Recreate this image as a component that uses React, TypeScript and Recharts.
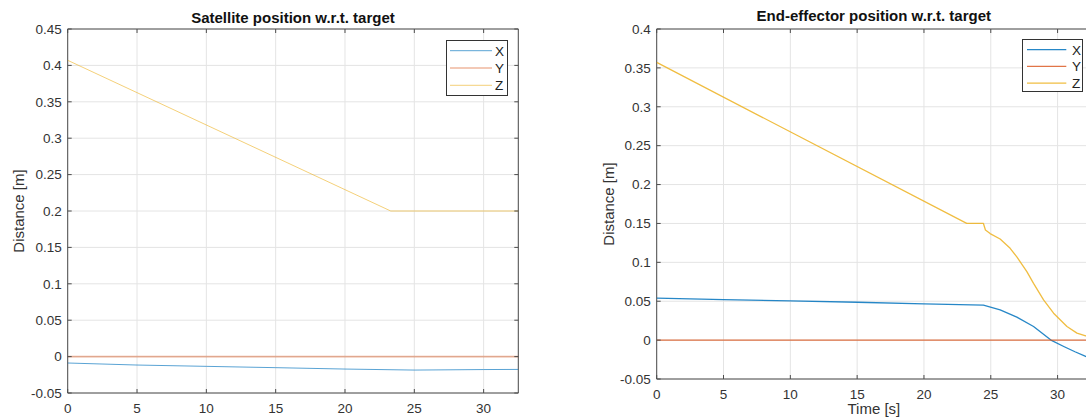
import React from "react";
import {
  LineChart,
  Line,
  XAxis,
  YAxis,
  CartesianGrid,
  ReferenceArea,
  Legend,
} from "recharts";

const FONT = '"Liberation Sans", Arial, Helvetica, sans-serif';
const TEXT = "#333333";
const FRAME = "#4d4d4d";
const GRID = "#e4e4e4";

// shared axes
const timeTicks = [0, 5, 10, 15, 20, 25, 30];
const satDistanceTicks = [-0.05, 0, 0.05, 0.1, 0.15, 0.2, 0.25, 0.3, 0.35, 0.4, 0.45];
const eeDistanceTicks = [-0.05, 0, 0.05, 0.1, 0.15, 0.2, 0.25, 0.3, 0.35, 0.4];

// Satellite position w.r.t. target
const satXTime = [0, 5, 10, 15, 20, 25, 30, 32.5];
const satXValue = [-0.0088, -0.0116, -0.0134, -0.0152, -0.0171, -0.0185, -0.0178, -0.0176];
const satYTime = [0, 32.5];
const satYValue = [0, 0];
const satZTime = [0, 23.3, 32.5];
const satZValue = [0.407, 0.2, 0.2];

// End-effector position w.r.t. target
const eeXTime = [0, 5, 10, 15, 20, 24.45, 25.7, 26.95, 28.2, 29.5, 30.5, 31.3, 32.1, 32.5];
const eeXValue = [0.054, 0.052, 0.0504, 0.0487, 0.0465, 0.0449, 0.0389, 0.0295, 0.0175, 0.0, -0.0085, -0.015, -0.021, -0.0235];
const eeYTime = [0, 32.5];
const eeYValue = [0, 0];
const eeZTime = [0, 23.2, 24.45, 24.6, 24.95, 25.7, 26.45, 26.95, 27.7, 28.2, 28.95, 29.7, 30.7, 31.45, 32.1, 32.5];
const eeZValue = [0.357, 0.15, 0.15, 0.1415, 0.137, 0.13, 0.118, 0.107, 0.088, 0.073, 0.0517, 0.0346, 0.0175, 0.009, 0.0056, 0.004];

const seriesNames = ["X", "Y", "Z"];
const seriesColors = ["#0072BD", "#D95319", "#EDB120"];

const pts = (t: number[], v: number[]) => t.map((x, i) => ({ t: x, v: v[i] }));
const fmt = (v: number) => String(Math.round(v * 100) / 100);

const makeXTick = (plotH: number) => (props: any) => {
  const { x, y, payload } = props;
  return (
    <g>
      <line x1={x} y1={y} x2={x} y2={y - 4} stroke={FRAME} />
      <line x1={x} y1={y - plotH} x2={x} y2={y - plotH + 4} stroke={FRAME} />
      <text x={x} y={y + 20} textAnchor="middle" fill={TEXT} fontSize={13.5} fontFamily={FONT}>
        {fmt(payload.value)}
      </text>
    </g>
  );
};

const makeYTick = (plotW: number) => (props: any) => {
  const { x, y, payload } = props;
  return (
    <g>
      <line x1={x} y1={y} x2={x + 4} y2={y} stroke={FRAME} />
      <line x1={x + plotW} y1={y} x2={x + plotW - 4} y2={y} stroke={FRAME} />
      <text x={x - 6} y={y} dy="0.35em" textAnchor="end" fill={TEXT} fontSize={13.5} fontFamily={FONT}>
        {fmt(payload.value)}
      </text>
    </g>
  );
};

function LegendBox({ opacity, widths, w, h, rowTop, rowGap, lx1, lx2, tx }: any) {
  return (
    <svg width={w} height={h} style={{ display: "block" }}>
      <rect x={0.5} y={0.5} width={w - 1} height={h - 1} fill="#fff" stroke="#333" />
      {seriesNames.map((n, i) => (
        <g key={n}>
          <line
            x1={lx1}
            x2={lx2}
            y1={rowTop + i * rowGap}
            y2={rowTop + i * rowGap}
            stroke={seriesColors[i]}
            strokeOpacity={opacity[i]}
            strokeWidth={widths[i]}
          />
          <text x={tx} y={rowTop + i * rowGap} dy="0.36em" fontSize={13.5} fill="#222" fontFamily={FONT}>
            {n}
          </text>
        </g>
      ))}
    </svg>
  );
}

function Panel(props: any) {
  const {
    left, width, plotLeft, plotTop, plotW, plotH, domainY, ticksY, data, opacity, widths,
    title, titleTop, xLabel, legend,
  } = props;
  const height = 417;
  const xAxisH = height - plotTop - plotH;
  const right = width - plotLeft - plotW;
  return (
    <div style={{ position: "absolute", left, top: 0, width, height }}>
      <div
        style={{
          position: "absolute",
          left: plotLeft,
          width: plotW,
          top: titleTop,
          textAlign: "center",
          fontFamily: FONT,
          fontWeight: "bold",
          fontSize: 15,
          lineHeight: "15px",
          color: "#111",
          whiteSpace: "nowrap",
        }}
      >
        {title}
      </div>
      <LineChart
        width={width}
        height={height}
        margin={{ top: plotTop, right, bottom: 0, left: 0 }}
        style={{ fontFamily: FONT }}
      >
        <CartesianGrid stroke={GRID} />
        <XAxis
          dataKey="t"
          type="number"
          domain={[0, 32.5]}
          ticks={timeTicks}
          interval={0}
          allowDataOverflow
          height={xAxisH}
          axisLine={false}
          tickLine={false}
          tickSize={0}
          tickMargin={0}
          tick={makeXTick(plotH)}
          label={
            xLabel
              ? {
                  content: (p: any) => {
                    const vb = p.viewBox;
                    return (
                      <text
                        x={vb.x + vb.width / 2}
                        y={vb.y + 35}
                        textAnchor="middle"
                        fontSize={15}
                        fill={TEXT}
                        fontFamily={FONT}
                      >
                        {xLabel}
                      </text>
                    );
                  },
                }
              : undefined
          }
        />
        <YAxis
          type="number"
          domain={domainY}
          ticks={ticksY}
          interval={0}
          allowDataOverflow
          width={plotLeft}
          axisLine={false}
          tickLine={false}
          tickSize={0}
          tickMargin={0}
          tick={makeYTick(plotW)}
          label={{
            content: (p: any) => {
              const vb = p.viewBox;
              const x = vb.x + 23.5;
              const y = vb.y + vb.height / 2;
              return (
                <text
                  x={x}
                  y={y}
                  transform={`rotate(-90 ${x} ${y})`}
                  textAnchor="middle"
                  fontSize={15}
                  fill={TEXT}
                  fontFamily={FONT}
                >
                  Distance [m]
                </text>
              );
            },
          }}
        />
        {data.map((d: any[], i: number) => (
          <Line
            key={seriesNames[i]}
            name={seriesNames[i]}
            data={d}
            dataKey="v"
            type="linear"
            dot={false}
            activeDot={false}
            stroke={seriesColors[i]}
            strokeOpacity={opacity[i]}
            strokeWidth={widths[i]}
            strokeLinejoin="round"
            isAnimationActive={false}
          />
        ))}
        <ReferenceArea
          x1={0}
          x2={32.5}
          y1={domainY[0]}
          y2={domainY[1]}
          fill="none"
          stroke={FRAME}
          strokeWidth={1}
          ifOverflow="visible"
        />
        <Legend
          layout="vertical"
          align="center"
          verticalAlign="middle"
          wrapperStyle={{ position: "absolute", left: legend.left, top: legend.top, width: legend.w, height: legend.h }}
          content={() => <LegendBox opacity={opacity} widths={widths} {...legend} />}
        />
      </LineChart>
    </div>
  );
}

export default function App() {
  const satData = [pts(satXTime, satXValue), pts(satYTime, satYValue), pts(satZTime, satZValue)];
  const eeData = [pts(eeXTime, eeXValue), pts(eeYTime, eeYValue), pts(eeZTime, eeZValue)];
  return (
    <div
      style={{
        position: "fixed",
        left: 0,
        top: 0,
        width: 1086,
        height: 417,
        overflow: "hidden",
        background: "#fff",
      }}
    >
      <Panel
        left={0}
        width={530}
        plotLeft={67.7}
        plotTop={29}
        plotW={450.6}
        plotH={364}
        domainY={[-0.05, 0.45]}
        ticksY={satDistanceTicks}
        data={satData}
        opacity={[0.65, 0.42, 0.6]}
        widths={[1, 1.6, 1]}
        title="Satellite position w.r.t. target"
        titleTop={9.8}
        legend={{ left: 446.3, top: 40, w: 62, h: 56, rowTop: 10.7, rowGap: 17.3, lx1: 4, lx2: 46, tx: 49 }}
      />
      <Panel
        left={590}
        width={510}
        plotLeft={66.7}
        plotTop={29}
        plotW={434.3}
        plotH={350}
        domainY={[-0.05, 0.4]}
        ticksY={eeDistanceTicks}
        data={eeData}
        opacity={[0.85, 0.8, 0.85]}
        widths={[1.3, 1.3, 1.3]}
        title="End-effector position w.r.t. target"
        titleTop={8.3}
        xLabel="Time [s]"
        legend={{ left: 431.7, top: 39.3, w: 61, h: 53, rowTop: 10.7, rowGap: 16.7, lx1: 5, lx2: 44.3, tx: 50 }}
      />
    </div>
  );
}
